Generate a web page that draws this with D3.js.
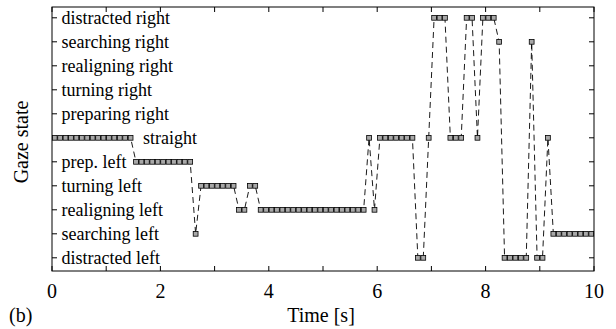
<!DOCTYPE html>
<html>
<head>
<meta charset="utf-8">
<script src="https://cdn.jsdelivr.net/npm/d3@7"></script>
<style>
  html, body { margin: 0; padding: 0; background: #fff; }
  svg { display: block; }
</style>
</head>
<body>
<svg id="chart" width="616" height="329"></svg>
<script>
// ---- data ----
const stateLabels = ["distracted left", "searching left", "realigning left", "turning left",
  "prep. left", "straight", "preparing right", "turning right", "realigning right",
  "searching right", "distracted right"];
const xTicks = [0, 2, 4, 6, 8, 10];
const xMinorTicks = [0, 1, 2, 3, 4, 5, 6, 7, 8, 9, 10];
const times = [0.05,0.15,0.25,0.35,0.45,0.55,0.65,0.75,0.85,0.95,
  1.05,1.15,1.25,1.35,1.45,1.55,1.65,1.75,1.85,1.95,
  2.05,2.15,2.25,2.35,2.45,2.55,2.65,2.75,2.85,2.95,
  3.05,3.15,3.25,3.35,3.45,3.55,3.65,3.75,3.85,3.95,
  4.05,4.15,4.25,4.35,4.45,4.55,4.65,4.75,4.85,4.95,
  5.05,5.15,5.25,5.35,5.45,5.55,5.65,5.75,5.85,5.95,
  6.05,6.15,6.25,6.35,6.45,6.55,6.65,6.75,6.85,6.95,
  7.05,7.15,7.25,7.35,7.45,7.55,7.65,7.75,7.85,7.95,
  8.05,8.15,8.25,8.35,8.45,8.55,8.65,8.75,8.85,8.95,
  9.05,9.15,9.25,9.35,9.45,9.55,9.65,9.75,9.85,9.95];
const states = [5,5,5,5,5,5,5,5,5,5,
  5,5,5,5,5,4,4,4,4,4,
  4,4,4,4,4,4,1,3,3,3,
  3,3,3,3,2,2,3,3,2,2,
  2,2,2,2,2,2,2,2,2,2,
  2,2,2,2,2,2,2,2,5,2,
  5,5,5,5,5,5,5,0,0,5,
  10,10,10,5,5,5,10,10,5,10,
  10,10,9,0,0,0,0,0,9,0,
  0,5,1,1,1,1,1,1,1,1];
const labelX = [0, 0, 0, 0, 0, 1.68, 0, 0, 0, 0, 0]; // time where each state label starts (0 = next to axis)

// ---- layout ----
const svg = d3.select("#chart");
const L = 52, R = 594, T = 7, B = 271;
const x = d3.scaleLinear().domain([0, 10]).range([L, R]);
const y = d3.scaleLinear().domain([-0.55, 10.45]).range([B, T]);
const levels = d3.range(stateLabels.length);
const FONT = '"Liberation Serif"';

svg.append("clipPath").attr("id", "clip")
  .append("rect").attr("x", L).attr("y", T).attr("width", R - L).attr("height", B - T);

// ticks (inward)
const g = svg.append("g");
g.selectAll("line.xb").data(xMinorTicks).join("line")
  .attr("x1", d => x(d)).attr("x2", d => x(d)).attr("y1", B).attr("y2", B - 5)
  .attr("stroke", "#000").attr("stroke-width", 1);
g.selectAll("line.xt").data(xMinorTicks).join("line")
  .attr("x1", d => x(d)).attr("x2", d => x(d)).attr("y1", T).attr("y2", T + 5)
  .attr("stroke", "#000").attr("stroke-width", 1);
g.selectAll("line.yl").data(levels).join("line")
  .attr("x1", L).attr("x2", L + 5).attr("y1", d => y(d)).attr("y2", d => y(d))
  .attr("stroke", "#000").attr("stroke-width", 1);
g.selectAll("line.yr").data(levels).join("line")
  .attr("x1", R).attr("x2", R - 5).attr("y1", d => y(d)).attr("y2", d => y(d))
  .attr("stroke", "#000").attr("stroke-width", 1);

// x tick labels
svg.selectAll("text.xl").data(xTicks).join("text")
  .style("font-family", FONT)
  .attr("x", d => x(d)).attr("y", 298).attr("text-anchor", "middle")
  .attr("font-size", 20).text(d => d);

// state labels
svg.selectAll("text.sl").data(levels).join("text")
  .style("font-family", FONT)
  .attr("x", d => labelX[d] ? x(labelX[d]) : L + 9.5)
  .attr("y", d => y(d)).attr("dy", "0.33em")
  .attr("font-size", 18).text(d => stateLabels[d]);

// data
const pts = times.map((t, i) => ({ t, s: states[i] }));
const plot = svg.append("g").attr("clip-path", "url(#clip)");
plot.append("path").datum(pts)
  .attr("d", d3.line().x(d => x(d.t)).y(d => y(d.s)))
  .attr("fill", "none").attr("stroke", "#000").attr("stroke-width", 0.9)
  .attr("stroke-dasharray", "6,4");
const ms = 4.8;
plot.selectAll("rect.m").data(pts).join("rect")
  .attr("x", d => x(d.t) - ms / 2).attr("y", d => y(d.s) - ms / 2)
  .attr("width", ms).attr("height", ms)
  .attr("fill", "#a8a8a8").attr("stroke", "#000").attr("stroke-width", 0.8);

// frame
svg.append("rect").attr("x", L).attr("y", T).attr("width", R - L).attr("height", B - T)
  .attr("fill", "none").attr("stroke", "#000").attr("stroke-width", 1);

// axis titles
svg.append("text").style("font-family", FONT).attr("x", 321).attr("y", 322).attr("text-anchor", "middle")
  .attr("font-size", 20).text("Time [s]");
svg.append("text").style("font-family", FONT).attr("transform", "translate(28,142) rotate(-90)")
  .attr("text-anchor", "middle").attr("font-size", 20).text("Gaze state");
svg.append("text").style("font-family", FONT).attr("x", 9).attr("y", 322).attr("font-size", 20).text("(b)");
</script>
</body>
</html>
